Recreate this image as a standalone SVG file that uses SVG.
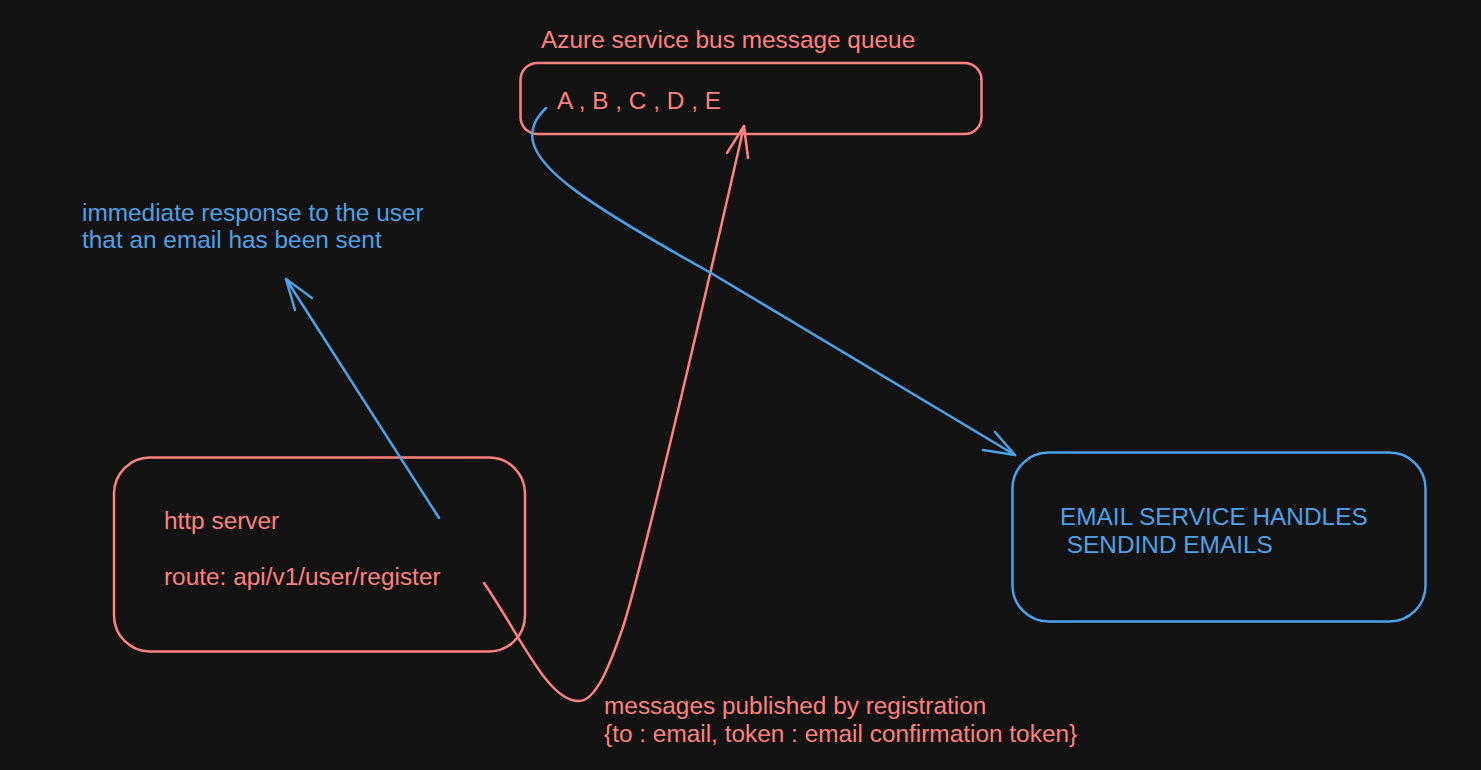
<svg xmlns="http://www.w3.org/2000/svg" width="1481" height="770" viewBox="0 0 1481 770">
  <style>
    .red { fill: none; stroke: #ff8080; stroke-width: 2.5; stroke-linecap: round; stroke-linejoin: round; }
    .blue { fill: none; stroke: #4ea1e6; stroke-width: 2.5; stroke-linecap: round; stroke-linejoin: round; }
    .tr { fill: #ff8080; font-family: "Liberation Sans", Arial, sans-serif; font-size: 24.4px; }
    .tb { fill: #4ea1e6; font-family: "Liberation Sans", Arial, sans-serif; font-size: 24.4px; }
  </style>
  <rect x="0" y="0" width="1481" height="770" fill="#121212"/>

  <g id="queue">
    <text class="tr" x="541" y="48">Azure service bus message queue</text>
    <rect class="red" x="520.5" y="63" width="461" height="71" rx="17" ry="17"/>
    <text class="tr" x="557" y="109">A , B , C , D , E</text>
  </g>

  <g id="response-note">
    <text class="tb" x="82" y="221">immediate response to the user</text>
    <text class="tb" x="82" y="248">that an email has been sent</text>
  </g>

  <g id="http-server">
    <rect class="red" x="114" y="457.5" width="411" height="194" rx="36" ry="36"/>
    <text class="tr" x="164" y="529">http server</text>
    <text class="tr" x="164" y="585">route: api/v1/user/register</text>
  </g>

  <g id="email-service">
    <rect class="blue" x="1012.5" y="452.5" width="413" height="169" rx="36" ry="36"/>
    <text class="tb" x="1060" y="525">EMAIL SERVICE HANDLES</text>
    <text class="tb" x="1060" y="553" xml:space="preserve"> SENDIND EMAILS</text>
  </g>

  <g id="messages-note">
    <text class="tr" x="604" y="714">messages published by registration</text>
    <text class="tr" x="604" y="742">{to : email, token : email confirmation token}</text>
  </g>

  <g id="connectors">
    <path class="blue" d="M439,518 L286,279"/>
    <path class="blue" d="M312,298 L286,279 L295,310"/>

    <path class="red" d="M484,583 C520,635 548,702 579,701 C596,701 610,665 623,627 C640,575 700,320 744,126"/>
    <path class="red" d="M727,153 L744,126 L748,158"/>

    <path class="blue" d="M546,108 C536,118 530,128 533,142 C540,170 580,200 711,273 L1015,455"/>
    <path class="blue" d="M995,432 L1015,455 L983,450"/>
  </g>
</svg>
